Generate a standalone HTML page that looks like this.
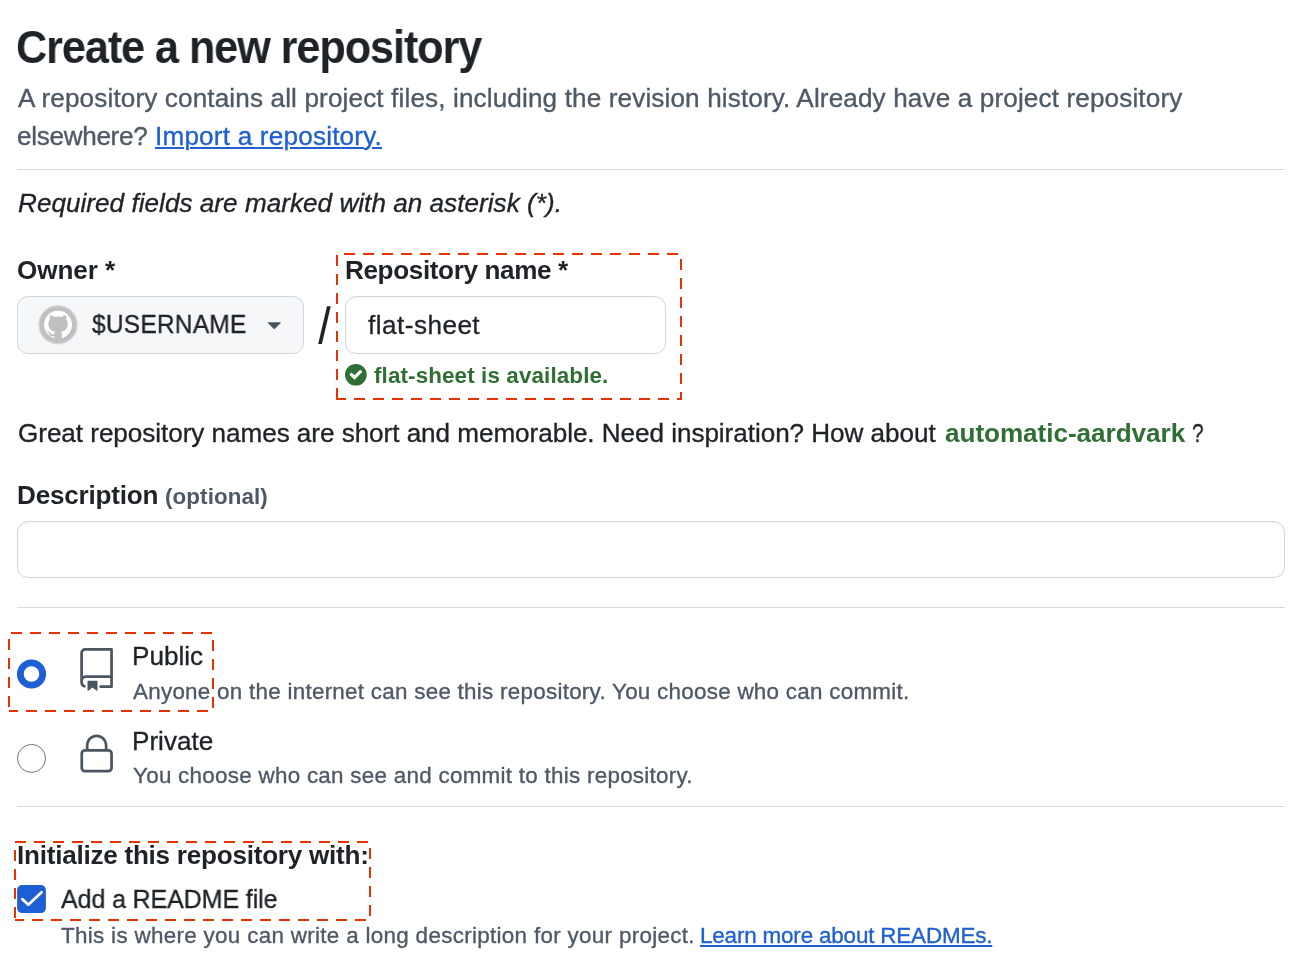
<!DOCTYPE html>
<html><head><meta charset="utf-8">
<style>
*{box-sizing:border-box;margin:0;padding:0}
html,body{width:1298px;height:972px;overflow:hidden;background:#fff}
body{font-family:"Liberation Sans",sans-serif;color:#1f2328;position:relative}
.t{position:absolute;white-space:nowrap;line-height:1;will-change:transform}
.t:not(.b){-webkit-text-stroke:0.35px currentColor}
.b{font-weight:bold}
.m{color:#4f5966}
.g{color:#2f6f33}
.lk{color:#1f5fd2;text-decoration:underline;text-decoration-thickness:2px;text-underline-offset:1.5px;text-decoration-skip-ink:auto}
.hr{position:absolute;left:17px;width:1268px;height:1px;background:#d5dbe1}
.box{position:absolute;border:1px solid #cfd7df;border-radius:11px}
svg{position:absolute;left:0;top:0;overflow:visible}
</style></head><body>

<div class="hr" style="top:169px"></div>
<div class="hr" style="top:607px"></div>
<div class="hr" style="top:806px"></div>

<div class="box" style="left:17px;top:296px;width:287px;height:58px;background:#f5f7f9"></div>
<div class="box" style="left:345px;top:296px;width:321px;height:58px;background:#fff;box-shadow:inset 0 1.5px 0 rgba(31,35,40,0.035)"></div>
<div class="box" style="left:17px;top:521px;width:1268px;height:57px;background:#fff;box-shadow:inset 0 1.5px 0 rgba(31,35,40,0.035)"></div>

<div class="t b" id="title" style="left:16.00px;top:24.00px;font-size:46.0px;letter-spacing:-1.157px;transform:scaleX(0.94);transform-origin:0 0;">Create a new repository</div>
<div class="t m" id="s1" style="left:18.00px;top:85.00px;font-size:26.1px;letter-spacing:0.139px;">A repository contains all project files, including the revision history. Already have a project repository</div>
<div class="t m" id="s2" style="left:17.00px;top:123.00px;font-size:26.1px;letter-spacing:-0.307px;">elsewhere?</div>
<div class="t lk" id="s3" style="left:155.00px;top:123.00px;font-size:26.1px;letter-spacing:0.208px;">Import a repository.</div>
<div class="t " id="req" style="left:18.00px;top:190.00px;font-size:26.1px;letter-spacing:0.032px;font-style:italic;">Required fields are marked with an asterisk (*).</div>
<div class="t b" id="owner" style="left:17.00px;top:257.00px;font-size:26.1px;letter-spacing:-0.068px;">Owner *</div>
<div class="t " id="user" style="left:92.00px;top:311.00px;font-size:26.1px;letter-spacing:0.215px;transform:scaleX(0.94);transform-origin:0 0;">$USERNAME</div>
<div class="t b" id="rname" style="left:345.00px;top:257.00px;font-size:26.1px;letter-spacing:-0.372px;">Repository name *</div>
<div class="t " id="flat" style="left:368.00px;top:312.00px;font-size:26.1px;letter-spacing:0.477px;">flat-sheet</div>
<div class="t b g" id="avail" style="left:374.00px;top:365.00px;font-size:22.4px;letter-spacing:0.123px;">flat-sheet is available.</div>
<div class="t " id="great" style="left:18.00px;top:420.00px;font-size:26.1px;letter-spacing:-0.045px;">Great repository names are short and memorable. Need inspiration? How about</div>
<div class="t b g" id="aard" style="left:945.00px;top:420.00px;font-size:26.1px;letter-spacing:-0.033px;">automatic-aardvark</div>
<div class="t " id="q" style="left:1192.00px;top:420.00px;font-size:26.1px;letter-spacing:0.000px;transform:scaleX(0.8);transform-origin:0 0;">?</div>
<div class="t b" id="desc" style="left:17.00px;top:482.00px;font-size:26.1px;letter-spacing:-0.200px;">Description</div>
<div class="t b m" id="opt" style="left:165.00px;top:486.00px;font-size:22.4px;letter-spacing:0.091px;">(optional)</div>
<div class="t " id="pub" style="left:132.00px;top:643.00px;font-size:26.1px;letter-spacing:0.018px;">Public</div>
<div class="t m" id="pubd" style="left:133.00px;top:681.00px;font-size:22.4px;letter-spacing:0.272px;">Anyone on the internet can see this repository. You choose who can commit.</div>
<div class="t " id="priv" style="left:132.00px;top:728.00px;font-size:26.1px;letter-spacing:-0.005px;">Private</div>
<div class="t m" id="privd" style="left:133.00px;top:765.00px;font-size:22.4px;letter-spacing:0.278px;">You choose who can see and commit to this repository.</div>
<div class="t b" id="init" style="left:17.00px;top:842.00px;font-size:26.1px;letter-spacing:-0.248px;">Initialize this repository with:</div>
<div class="t " id="readme" style="left:61.00px;top:886.00px;font-size:26.1px;letter-spacing:-0.138px;transform:scaleX(0.96);transform-origin:0 0;">Add a README file</div>
<div class="t m" id="rd" style="left:61.00px;top:925.00px;font-size:22.4px;letter-spacing:0.318px;">This is where you can write a long description for your project.</div>
<div class="t lk" id="rl" style="left:700.00px;top:925.00px;font-size:22.4px;letter-spacing:-0.156px;">Learn more about READMEs.</div>

<svg width="1298" height="972" viewBox="0 0 1298 972">
  <!-- avatar -->
  <defs>
    <mask id="cat"><circle cx="8" cy="8" r="8" fill="#fff"/><path fill="#000" d="M8 0c4.42 0 8 3.58 8 8a8.013 8.013 0 0 1-5.45 7.59c-.4.08-.55-.17-.55-.38 0-.27.01-1.13.01-2.2 0-.75-.25-1.23-.54-1.48 1.78-.2 3.65-.88 3.65-3.95 0-.88-.31-1.59-.82-2.15.08-.2.36-1.02-.08-2.12 0 0-.67-.22-2.2.82-.64-.18-1.32-.27-2-.27-.68 0-1.36.09-2 .27-1.53-1.03-2.2-.82-2.2-.82-.44 1.1-.16 1.92-.08 2.12-.51.56-.82 1.28-.82 2.15 0 3.06 1.86 3.75 3.64 3.95-.23.2-.44.55-.51 1.07-.46.21-1.61.55-2.33-.66-.15-.24-.6-.83-1.23-.82-.67.01-.27.38.01.53.34.19.73.9.82 1.13.16.45.68 1.31 2.69.94 0 .67.01 1.3.01 1.49 0 .21-.15.45-.55.38A7.995 7.995 0 0 1 0 8c0-4.42 3.58-8 8-8Z"/></mask>
  </defs>
  <circle cx="58" cy="324.7" r="19.8" fill="#d3d9de"/>
  <circle cx="58" cy="324.7" r="18.3" fill="#c0c0c0"/>
  <circle cx="58" cy="324.7" r="14.1" fill="#fff"/>
  <g transform="translate(42.9,308.7) scale(1.89,2.0)"><rect width="16" height="16" fill="#c0c0c0" mask="url(#cat)"/></g>
  <circle cx="58" cy="324.7" r="16.2" fill="none" stroke="#c0c0c0" stroke-width="4.2"/>
  <!-- caret -->
  <g transform="translate(259.8,309.5) scale(1.81)" fill="#4b5461"><path d="m4.427 7.427 3.396 3.396a.25.25 0 0 0 .354 0l3.396-3.396A.25.25 0 0 0 11.396 7H4.604a.25.25 0 0 0-.177.427Z"/></g>
  <!-- slash -->
  <path d="M327 306.2 L330.7 306.2 L321.9 343.9 L318.2 343.9 Z" fill="#1f2328"/>
  <!-- check circle -->
  <g transform="translate(345,363.9) scale(1.81)" fill="#2f6f33"><path d="M6 0a6 6 0 1 1 0 12A6 6 0 0 1 6 0Zm-.705 8.737L9.63 4.403 8.392 3.166 5.295 6.263l-1.7-1.538L2.42 6.022l2.875 2.715Z"/></g>
  <!-- radios -->
  <circle cx="31.5" cy="674" r="11.2" fill="#fff" stroke="#1e60d4" stroke-width="6.8"/>
  <circle cx="31.5" cy="758.4" r="14" fill="#fff" stroke="#6b7480" stroke-width="1"/>
  <!-- repo icon -->
  <g transform="translate(74.8,648.1) scale(1.815)" fill="#4b5461"><path d="M3 2.75A2.75 2.75 0 0 1 5.75 0h14.5a.75.75 0 0 1 .75.75v20.5a.75.75 0 0 1-.75.75h-6a.75.75 0 0 1 0-1.5h5.25v-4H6A1.5 1.5 0 0 0 4.5 18v.75c0 .716.43 1.334 1.05 1.605a.75.75 0 0 1-.6 1.374A3.251 3.251 0 0 1 3 18.75ZM19.5 1.5H5.75c-.69 0-1.25.56-1.25 1.25v12.651A2.989 2.989 0 0 1 6 15h13.5Z"/><path d="M7 18.25a.25.25 0 0 1 .25-.25h5a.25.25 0 0 1 .25.25v5.01a.25.25 0 0 1-.397.201l-2.206-1.604a.25.25 0 0 0-.294 0L7.397 23.46a.25.25 0 0 1-.397-.2v-5.01Z"/></g>
  <!-- lock icon -->
  <g transform="translate(75,732.8) scale(1.805)" fill="#4b5461"><path d="M6 9V7.25C6 3.845 8.503 1 12 1s6 2.845 6 6.25V9h.5a2.5 2.5 0 0 1 2.5 2.5v8a2.5 2.5 0 0 1-2.5 2.5h-13A2.5 2.5 0 0 1 3 19.500v-8A2.5 2.5 0 0 1 5.5 9Zm-1.500 2.500v8a1 1 0 0 0 1 1h13a1 1 0 0 0 1-1v-8a1 1 0 0 0-1-1h-13a1 1 0 0 0-1 1Zm3-4.250V9h9V7.250c0-2.670-1.922-4.750-4.500-4.750-2.578 0-4.500 2.080-4.500 4.750Z"/></g>
  <!-- checkbox -->
  <rect x="17.1" y="885" width="28.8" height="28.1" rx="5" fill="#1e60d4"/>
  <path d="M22.2 899.1 L28.3 904.7 L41.6 892.3" fill="none" stroke="#fff" stroke-width="2.7" stroke-linecap="round" stroke-linejoin="round"/>
  <!-- dashed annotation boxes: start bottom-left, go right, up, left, down -->
  <g fill="none" stroke="#e83204" stroke-width="2" stroke-dasharray="11 8" stroke-dashoffset="2">
    <path d="M337 399 H681 V254 H337 Z"/>
    <path d="M9 711 H213 V633 H9 Z"/>
    <path d="M15 920 H370 V842 H15 Z"/>
  </g>
</svg>
</body></html>
